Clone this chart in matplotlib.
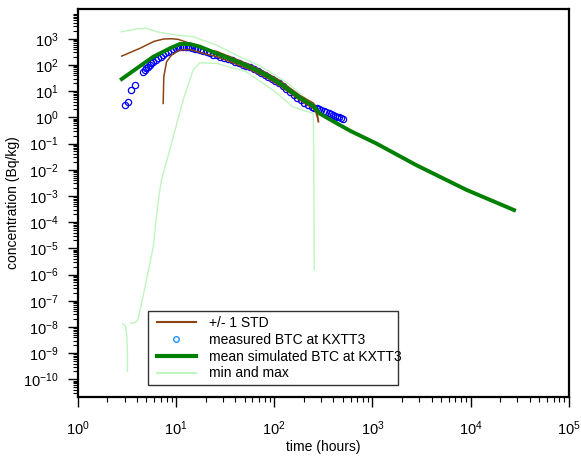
import numpy as np
import matplotlib
matplotlib.use("Agg")
import matplotlib.pyplot as plt
from matplotlib.lines import Line2D
from matplotlib.patches import Rectangle
from matplotlib.ticker import FixedLocator, NullFormatter, LogFormatterMathtext

plt.rcParams['font.family'] = ['Liberation Sans', 'DejaVu Sans']
plt.rcParams['mathtext.fontset'] = 'custom'
plt.rcParams['mathtext.rm'] = 'Liberation Sans'
plt.rcParams['mathtext.it'] = 'Liberation Sans'

# mean simulated BTC
mean_t = [2.8, 4, 5.85, 8.65, 10.9, 13.8, 17.5, 25.8, 38, 56, 83, 114, 183, 250,
          290, 400, 600, 1100, 2800, 9100, 27700]
mean_c = [29, 75, 205, 430, 630, 630, 500, 277, 155, 85, 41, 20, 5.5, 2.7,
          1.4, 0.7, 0.3, 0.1, 0.015, 1.7e-3, 2.9e-4]

# +/- 1 STD
std_hi_t = [2.8, 4.28, 6.0, 7.5, 9.0, 10.5, 13.8, 22, 25.8, 38, 56, 83, 114, 183, 250, 265, 275, 282]
std_hi_c = [218, 430, 800, 980, 1000, 950, 670, 360, 330, 185, 102, 50, 25, 6.8, 3.5, 2.6, 1.3, 0.68]
std_lo_t = [7.4, 7.5, 8.0, 9.0, 10.9, 13.8, 18.9, 25.8, 38, 56, 83, 114, 183, 250, 265, 275, 282]
std_lo_c = [3.4, 35, 132, 240, 370, 390, 277, 210, 120, 68, 33, 16, 4.5, 2.2, 1.6, 1.0, 0.7]

# min and max
max_t = [2.79, 3.96, 5.0, 6.8, 10.1, 14.9, 25.8, 44.6, 71, 133, 213, 270]
max_c = [1850, 2350, 2500, 1750, 1380, 1200, 575, 205, 95, 22, 5, 2.5]
min_t = [2.85, 3.05, 3.15, 3.2, 3.2, np.nan, 3.45, 3.85, 4.1, 4.6, 5.85, 6.6, 7.1,
         8.6, 11.8, 14.9, 17.4, 25.9, 52, 97, 156, 250, 254, 255]
min_c = [1.3e-8, 1.1e-8, 5e-9, 1e-9, 2e-10, np.nan, 1.4e-8, 1.45e-8, 2e-8, 1.4e-7,
         1.1e-5, 7e-4, 4e-3, 0.056, 4.6, 63, 120, 115, 55, 11, 2.5, 1.4, 1e-3, 1.5e-6]

# measured BTC
meas_t = [3.0, 3.25, 3.5, 3.8, 4.6, 4.8, 5.0, 5.2, 5.4, 5.6, 5.85, 6.2, 6.6, 7.0, 7.4,
          7.8, 8.3, 8.8, 9.35, 9.9, 10.5, 11.1, 11.8, 12.5, 13.2, 13.8, 14.6, 15.5,
          16.5, 17.5, 19, 20.5, 22, 24, 26, 28, 31, 34, 37, 40, 44, 48, 52, 57, 62,
          68, 74, 80, 87, 95, 103, 112, 122, 133, 145, 158, 172, 187, 203, 220, 240,
          255, 270, 285, 300, 320, 340, 360, 380, 400, 420, 440, 460, 480, 500]
meas_c = [2.95, 4.0, 11, 17, 55, 65, 74, 86, 100, 115, 132, 155, 178, 210, 240,
          280, 320, 355, 390, 430, 470, 490, 500, 495, 485, 470, 450, 420,
          390, 360, 330, 300, 275, 250, 230, 210, 185, 165, 150, 135, 118, 104, 92, 80, 70,
          59, 50, 43, 36, 30, 25, 20, 16, 12.5, 9.5, 7.3, 5.6, 4.4, 3.5, 2.9, 2.5,
          2.35, 2.3, 2.1, 1.9, 1.75, 1.6, 1.45, 1.35, 1.25, 1.15, 1.05, 1.0, 0.95, 0.9]

y_major = [10.0**e for e in range(-10, 4)]
x_major = [10.0**e for e in range(0, 6)]

fig = plt.figure(figsize=(5.81, 4.57), dpi=100)
ax = fig.add_axes([0.134, 0.132, 0.845, 0.848])

light = '#bff5bf'
brown = '#8b4513'
ax.plot(max_t, max_c, color=light, lw=1.0, zorder=1)
ax.plot(min_t, min_c, color=light, lw=1.0, zorder=1)
ax.plot(meas_t, meas_c, linestyle='none', marker='o', markersize=4.5,
        markerfacecolor='none', markeredgecolor='#0000ff', markeredgewidth=0.9, zorder=2)
ax.plot(std_hi_t, std_hi_c, color=brown, lw=1.1, zorder=3)
ax.plot(std_lo_t, std_lo_c, color=brown, lw=1.1, zorder=3)
ax.plot(mean_t, mean_c, color='#008000', lw=2.8, zorder=4)

ax.set_xscale('log')
ax.set_yscale('log')
ax.set_xlim(1, 1e5)
ax.set_ylim(10**-10.66, 10**4.13)

ax.xaxis.set_major_locator(FixedLocator(x_major))
ax.xaxis.set_minor_locator(FixedLocator([m * 10.0**e for e in range(0, 5) for m in range(2, 10)]))
ax.yaxis.set_major_locator(FixedLocator(y_major))
ax.yaxis.set_minor_locator(FixedLocator([m * 10.0**e for e in range(-11, 4) for m in range(2, 10)]))
ax.xaxis.set_major_formatter(LogFormatterMathtext())
ax.yaxis.set_major_formatter(LogFormatterMathtext())
ax.xaxis.set_minor_formatter(NullFormatter())
ax.yaxis.set_minor_formatter(NullFormatter())

ax.tick_params(which='major', direction='out', length=7, width=1.0, labelsize=10.5, pad=7)
ax.tick_params(axis='x', which='major', pad=9.5)
ax.tick_params(which='minor', direction='out', length=3.5, width=0.8)
ax.tick_params(top=False, right=False)
for s in ax.spines.values():
    s.set_linewidth(1.6)

ax.set_xlabel('time (hours)', fontsize=10, labelpad=1)
ax.set_ylabel('concentration (Bq/kg)', fontsize=10, labelpad=2)

handles = [
    Line2D([], [], color=brown, lw=1.5),
    Line2D([], [], linestyle='none', marker='o', markersize=4, markerfacecolor='none',
           markeredgecolor='#1e90ff', markeredgewidth=1.0),
    Line2D([], [], color='#008000', lw=3),
    Line2D([], [], color=light, lw=1.5),
]
labels = ['+/- 1 STD', 'measured BTC at KXTT3', 'mean simulated BTC at KXTT3', 'min and max']
leg = ax.legend(handles, labels, loc='lower left', bbox_to_anchor=(0.152, 0.031),
                fontsize=10, frameon=False, borderpad=0.3,
                labelspacing=0.2, handlelength=2.8, handletextpad=1.0, borderaxespad=0)
leg.set_zorder(6)
# legend frame (text slightly overflows on the right, as in the original)
frame = Rectangle((0.1426, 0.030), 0.509, 0.192, transform=ax.transAxes,
                  facecolor='white', edgecolor='#333333', lw=1.0, zorder=5)
ax.add_patch(frame)

fig.savefig('out.png', dpi=100)
